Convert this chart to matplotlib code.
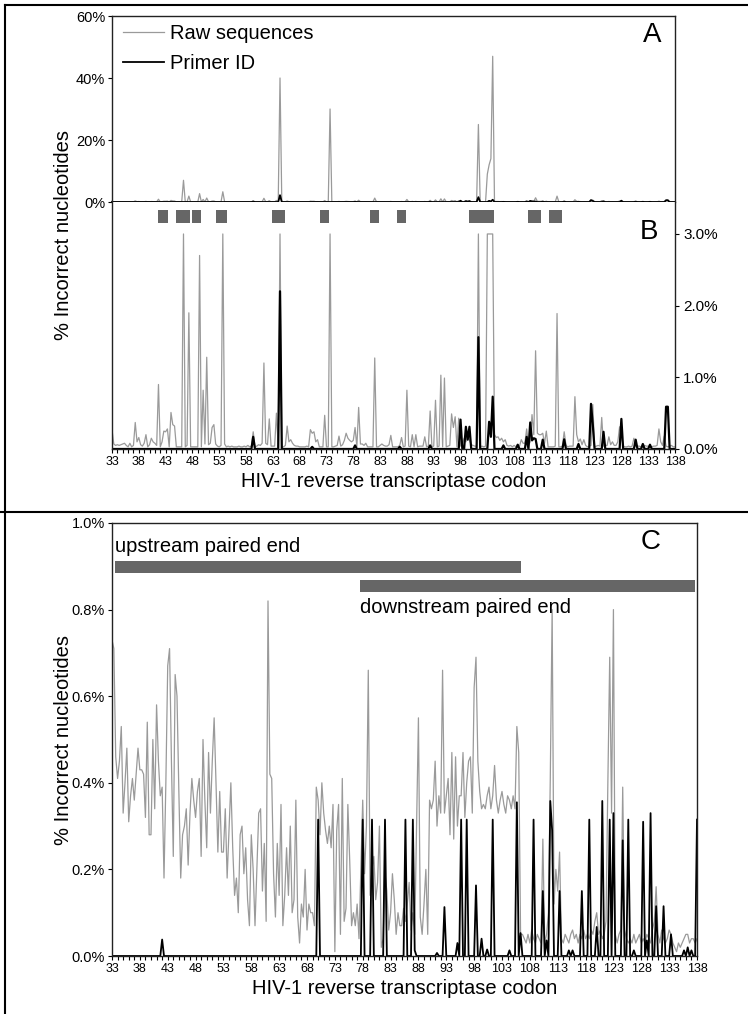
import numpy as np
import matplotlib
matplotlib.use("Agg")
import matplotlib.pyplot as plt
from matplotlib.lines import Line2D
from matplotlib.ticker import MultipleLocator, FixedLocator, FuncFormatter

plt.rcParams['font.family'] = ['Liberation Sans', 'DejaVu Sans']

# ---------------- data (percent incorrect nucleotides, one value per nucleotide) -------------
first_codon = 33
last_codon = 138
codon_ticks = [33, 38, 43, 48, 53, 58, 63, 68, 73, 78, 83, 88, 93, 98, 103, 108, 113, 118, 123, 128, 133, 138]

# Panels A/B: raw sequences (grey), rows of 5 codons x 3 nucleotides, starting at codon 33
raw_ab = [
    0.27, 0.07, 0.05, 0.06, 0.05, 0.06, 0.07, 0.08, 0.05, 0.03, 0.08, 0.03, 0.05, 0.37, 0.10,
    0.16, 0.06, 0.04, 0.08, 0.20, 0.03, 0.06, 0.15, 0.10, 0.08, 0.05, 0.90, 0.03, 0.10, 0.25,
    0.24, 0.28, 0.03, 0.51, 0.34, 0.32, 0.03, 0.03, 0.03, 0.03, 7.00, 0.03, 0.05, 1.90, 0.03,
    0.03, 0.03, 0.03, 0.03, 2.70, 0.03, 0.82, 0.07, 1.28, 0.06, 0.08, 0.30, 0.34, 0.07, 0.04,
    0.03, 0.05, 3.30, 0.07, 0.03, 0.04, 0.03, 0.04, 0.03, 0.03, 0.03, 0.04, 0.03, 0.03, 0.04,
    0.03, 0.05, 0.03, 0.04, 0.24, 0.03, 0.04, 0.06, 0.05, 0.08, 1.20, 0.08, 0.06, 0.42, 0.04,
    0.04, 0.04, 0.50, 0.03, 40.0, 0.03, 0.03, 0.05, 0.32, 0.10, 0.13, 0.08, 0.05, 0.04, 0.04,
    0.03, 0.03, 0.03, 0.03, 0.04, 0.03, 0.27, 0.22, 0.24, 0.10, 0.13, 0.03, 0.03, 0.03, 0.47,
    0.03, 0.03, 30.0, 0.03, 0.03, 0.04, 0.05, 0.18, 0.04, 0.06, 0.12, 0.22, 0.15, 0.12, 0.10,
    0.12, 0.30, 0.03, 0.58, 0.07, 0.07, 0.05, 0.08, 0.03, 0.03, 0.03, 0.03, 1.27, 0.03, 0.03,
    0.05, 0.07, 0.05, 0.04, 0.04, 0.06, 0.19, 0.03, 0.03, 0.03, 0.03, 0.05, 0.16, 0.03, 0.04,
    0.82, 0.04, 0.03, 0.20, 0.03, 0.20, 0.03, 0.04, 0.04, 0.04, 0.17, 0.03, 0.04, 0.53, 0.03,
    0.04, 0.68, 0.03, 0.04, 1.03, 0.03, 0.99, 0.03, 0.04, 0.05, 0.49, 0.30, 0.45, 0.03, 0.43,
    0.04, 0.06, 0.15, 0.10, 0.20, 0.12, 0.06, 0.05, 0.04, 0.04, 25.0, 0.03, 0.04, 0.03, 0.04,
    9.00, 12.0, 14.0, 47.0, 0.20, 0.16, 0.17, 0.12, 0.15, 0.10, 0.13, 0.05, 0.04, 0.05, 0.03,
    0.05, 0.03, 0.06, 0.04, 0.13, 0.08, 0.08, 0.28, 0.05, 0.10, 0.48, 0.20, 1.37, 0.22, 0.20,
    0.20, 0.22, 0.08, 0.25, 0.03, 0.03, 0.03, 0.03, 0.04, 1.89, 0.03, 0.03, 0.04, 0.24, 0.05,
    0.03, 0.04, 0.04, 0.04, 0.73, 0.20, 0.10, 0.14, 0.06, 0.13, 0.05, 0.03, 0.04, 0.05, 0.62,
    0.03, 0.04, 0.05, 0.04, 0.44, 0.04, 0.05, 0.05, 0.17, 0.06, 0.10, 0.05, 0.05, 0.10, 0.31,
    0.20, 0.04, 0.03, 0.03, 0.04, 0.03, 0.04, 0.15, 0.04, 0.04, 0.04, 0.03, 0.04, 0.05, 0.04,
    0.04, 0.04, 0.03, 0.04, 0.04, 0.05, 0.28, 0.10, 0.05, 0.18, 0.04, 0.03, 0.04, 0.05, 0.03,
    0.03,
]

# Panels A/B: Primer ID consensus (black)
pid_ab = [
    0, 0, 0, 0, 0, 0, 0, 0, 0, 0, 0, 0, 0, 0, 0,
    0, 0, 0, 0, 0, 0, 0, 0, 0, 0, 0, 0, 0, 0, 0,
    0, 0, 0, 0, 0, 0, 0, 0, 0, 0, 0, 0, 0, 0, 0,
    0, 0, 0, 0, 0, 0, 0, 0, 0, 0, 0, 0, 0, 0, 0,
    0, 0, 0, 0, 0, 0, 0, 0, 0, 0, 0, 0, 0, 0, 0,
    0, 0, 0, 0, 0.17, 0, 0, 0, 0, 0, 0, 0, 0, 0, 0,
    0, 0, 0, 0, 2.20, 0, 0, 0, 0, 0, 0, 0, 0, 0, 0,
    0, 0, 0, 0, 0, 0, 0, 0.03, 0, 0, 0, 0, 0, 0, 0,
    0, 0, 0, 0, 0, 0, 0, 0, 0, 0, 0, 0, 0, 0, 0,
    0, 0.05, 0, 0, 0, 0, 0, 0, 0, 0, 0, 0, 0, 0, 0,
    0, 0, 0, 0, 0, 0, 0, 0, 0, 0, 0, 0.03, 0, 0, 0,
    0, 0, 0, 0, 0, 0, 0, 0, 0, 0, 0, 0, 0, 0.05, 0,
    0, 0, 0, 0, 0, 0, 0, 0, 0, 0, 0, 0, 0, 0, 0,
    0.41, 0, 0, 0.31, 0.13, 0.31, 0, 0, 0, 0, 1.56, 0, 0, 0, 0,
    0, 0.38, 0.17, 0.73, 0, 0, 0, 0, 0, 0.05, 0, 0, 0, 0, 0,
    0, 0, 0.06, 0, 0, 0, 0, 0.17, 0, 0.37, 0.12, 0.15, 0.14, 0, 0,
    0, 0.13, 0, 0, 0, 0, 0, 0, 0, 0, 0, 0, 0, 0.135, 0,
    0, 0, 0, 0, 0, 0, 0.07, 0, 0, 0, 0, 0, 0, 0.63, 0.34,
    0, 0, 0, 0, 0, 0.24, 0, 0, 0, 0, 0, 0, 0, 0, 0,
    0.42, 0, 0, 0, 0, 0, 0, 0, 0.13, 0, 0, 0, 0.07, 0, 0,
    0, 0.06, 0, 0, 0, 0, 0, 0, 0, 0, 0.59, 0.59, 0, 0, 0,
    0,
]

# Panel C: raw sequences (grey)
raw_c = [
    0.73, 0.71, 0.46, 0.41, 0.45, 0.53, 0.33, 0.40, 0.48, 0.31, 0.37, 0.41, 0.36, 0.42, 0.48,
    0.43, 0.43, 0.42, 0.32, 0.54, 0.28, 0.28, 0.50, 0.34, 0.58, 0.45, 0.37, 0.39, 0.18, 0.40,
    0.67, 0.71, 0.45, 0.23, 0.65, 0.60, 0.38, 0.18, 0.28, 0.30, 0.34, 0.21, 0.33, 0.41, 0.36,
    0.32, 0.38, 0.41, 0.23, 0.50, 0.36, 0.25, 0.47, 0.33, 0.45, 0.55, 0.40, 0.24, 0.38, 0.24,
    0.24, 0.34, 0.18, 0.29, 0.40, 0.25, 0.14, 0.18, 0.10, 0.28, 0.30, 0.19, 0.25, 0.13, 0.07,
    0.28, 0.20, 0.07, 0.20, 0.33, 0.34, 0.15, 0.26, 0.08, 0.82, 0.42, 0.41, 0.19, 0.09, 0.26,
    0.14, 0.35, 0.07, 0.14, 0.25, 0.14, 0.30, 0.10, 0.13, 0.36, 0.09, 0.03, 0.12, 0.09, 0.20,
    0.06, 0.12, 0.10, 0.10, 0.07, 0.39, 0.36, 0.28, 0.40, 0.33, 0.29, 0.26, 0.30, 0.25, 0.35,
    0.01, 0.29, 0.35, 0.05, 0.41, 0.08, 0.11, 0.35, 0.22, 0.07, 0.10, 0.07, 0.12, 0.04, 0.20,
    0.36, 0.19, 0.30, 0.66, 0.14, 0.20, 0.23, 0.13, 0.17, 0.30, 0.02, 0.04, 0.19, 0.15, 0.06,
    0.10, 0.19, 0.13, 0.05, 0.10, 0.07, 0.07, 0.11, 0.08, 0.12, 0.17, 0.06, 0.10, 0.05, 0.30,
    0.55, 0.09, 0.05, 0.12, 0.20, 0.05, 0.36, 0.34, 0.36, 0.45, 0.30, 0.37, 0.33, 0.66, 0.33,
    0.37, 0.41, 0.28, 0.47, 0.27, 0.46, 0.30, 0.37, 0.37, 0.47, 0.32, 0.40, 0.45, 0.46, 0.33,
    0.62, 0.69, 0.45, 0.38, 0.34, 0.35, 0.34, 0.37, 0.39, 0.34, 0.37, 0.44, 0.36, 0.33, 0.36,
    0.38, 0.35, 0.33, 0.37, 0.36, 0.34, 0.37, 0.34, 0.53, 0.47, 0.05, 0.05, 0.04, 0.03, 0.05,
    0.03, 0.06, 0.04, 0.03, 0.05, 0.04, 0.03, 0.27, 0.03, 0.05, 0.10, 0.41, 0.80, 0.12, 0.20,
    0.15, 0.24, 0.04, 0.03, 0.05, 0.04, 0.03, 0.05, 0.06, 0.04, 0.05, 0.03, 0.05, 0.04, 0.06,
    0.04, 0.05, 0.04, 0.06, 0.05, 0.08, 0.10, 0.05, 0.06, 0.04, 0.05, 0.08, 0.40, 0.69, 0.33,
    0.80, 0.05, 0.03, 0.05, 0.06, 0.39, 0.06, 0.04, 0.03, 0.04, 0.03, 0.05, 0.03, 0.04, 0.05,
    0.03, 0.04, 0.03, 0.05, 0.04, 0.03, 0.06, 0.08, 0.16, 0.05, 0.03, 0.06, 0.04, 0.03, 0.04,
    0.06, 0.05, 0.03, 0.02, 0.01, 0.03, 0.02, 0.03, 0.04, 0.05, 0.05, 0.03, 0.04, 0.04, 0.03,
    0.04,
]

# Panel C: Primer ID consensus (black)
pid_c = [
    0, 0, 0, 0, 0, 0, 0, 0, 0, 0, 0, 0, 0, 0, 0,
    0, 0, 0, 0, 0, 0, 0, 0, 0, 0, 0, 0, 0.038, 0, 0,
    0, 0, 0, 0, 0, 0, 0, 0, 0, 0, 0, 0, 0, 0, 0,
    0, 0, 0, 0, 0, 0, 0, 0, 0, 0, 0, 0, 0, 0, 0,
    0, 0, 0, 0, 0, 0, 0, 0, 0, 0, 0, 0, 0, 0, 0,
    0, 0, 0, 0, 0, 0, 0, 0, 0, 0, 0, 0, 0, 0, 0,
    0, 0, 0, 0, 0, 0, 0, 0, 0, 0, 0, 0, 0, 0, 0,
    0, 0, 0, 0, 0, 0, 0.315, 0, 0, 0, 0, 0, 0, 0, 0,
    0, 0, 0, 0, 0, 0, 0, 0, 0, 0, 0, 0, 0, 0, 0,
    0.315, 0, 0, 0, 0, 0.315, 0, 0, 0, 0, 0, 0, 0.315, 0, 0,
    0, 0, 0, 0, 0, 0, 0, 0, 0.315, 0, 0, 0, 0.315, 0.013, 0,
    0, 0, 0, 0, 0, 0, 0, 0, 0, 0, 0.007, 0, 0, 0, 0.113,
    0, 0, 0, 0, 0, 0, 0.03, 0, 0.315, 0, 0, 0.315, 0, 0, 0,
    0, 0.163, 0, 0, 0.04, 0, 0, 0.015, 0, 0, 0.315, 0, 0, 0, 0,
    0, 0, 0, 0, 0.013, 0, 0, 0, 0.355, 0, 0.053, 0, 0, 0, 0,
    0, 0, 0.315, 0, 0, 0, 0, 0.15, 0, 0.036, 0, 0.358, 0.29, 0, 0,
    0, 0.15, 0, 0, 0, 0, 0.013, 0, 0.013, 0, 0, 0, 0, 0.15, 0,
    0, 0, 0.315, 0, 0, 0, 0.067, 0, 0, 0.358, 0, 0, 0, 0.315, 0,
    0.33, 0, 0, 0, 0, 0.267, 0, 0, 0.315, 0, 0, 0.013, 0, 0, 0,
    0, 0.31, 0, 0.036, 0, 0.33, 0, 0, 0.115, 0, 0, 0, 0.115, 0, 0,
    0, 0.05, 0, 0, 0, 0, 0, 0, 0.013, 0, 0.02, 0, 0.013, 0, 0,
    0.315,
]

# Drug-resistance codon blocks shown in panel B (start codon, end codon)
block_start = [41.6, 44.9, 47.9, 52.4, 62.9, 71.8, 81.1, 86.2, 99.6, 110.6, 114.5]
block_end = [43.4, 47.6, 49.6, 54.5, 65.3, 73.5, 82.8, 87.9, 104.3, 113.0, 117.0]

# Paired-end read coverage in panel C (start codon, end codon, level)
paired_labels = ["upstream paired end", "downstream paired end"]
paired_start = [33.5, 77.5]
paired_end = [106.4, 137.7]
paired_level = [0.898, 0.854]

# ---------------- figure -------------
W, H = 748, 1014
fig = plt.figure(figsize=(W / 100, H / 100), dpi=100)


def box(x0, y0, x1, y1):
    return [x0 / W, 1 - y1 / H, (x1 - x0) / W, (y1 - y0) / H]


nt_pos = first_codon + np.arange(len(raw_ab)) / 3.0
GREY = '#9a9a9a'
BLOCK = '#666666'
SPINE = '#222222'
tick_fs = 9

axA = fig.add_axes(box(112, 16, 675, 202))
axB = fig.add_axes(box(112, 202, 675, 449))
axC = fig.add_axes(box(112, 523, 697, 956))

# ---- panel A ----
lA1, = axA.plot(nt_pos, raw_ab, color=GREY, lw=0.9, label='Raw sequences', clip_on=False)
lA2, = axA.plot(nt_pos, pid_ab, color='black', lw=1.3, label='Primer ID', clip_on=False)
axA.set_xlim(first_codon, last_codon)
axA.set_ylim(0, 60)
axA.set_yticks([0, 20, 40, 60])
axA.yaxis.set_major_formatter(FuncFormatter(lambda v, p: f'{v:.0f}%'))
axA.set_xticks([])
axA.spines['bottom'].set_visible(False)
for s in ['left', 'top', 'right']:
    axA.spines[s].set_color(SPINE)
    axA.spines[s].set_linewidth(1.0)
axA.tick_params(axis='y', direction='out', length=3, labelsize=10.5, pad=2)
axA.legend(handles=[lA1, lA2], loc='upper left', bbox_to_anchor=(0.02, 0.955), frameon=False,
           fontsize=14.5, handlelength=2.0, handletextpad=0.3, labelspacing=0.55,
           borderpad=0, borderaxespad=0)
axA.text(0.959, 0.90, 'A', transform=axA.transAxes, fontsize=20, ha='center', va='center')

# ---- panel B ----
cap = 3.0
axB.plot(nt_pos, np.minimum(raw_ab, cap), color=GREY, lw=0.9)
axB.plot(nt_pos, np.minimum(pid_ab, cap), color='black', lw=1.6)
axB.set_xlim(first_codon, last_codon)
axB.set_ylim(0, 3.446)
axB.yaxis.tick_right()
axB.set_yticks([0, 1, 2, 3])
axB.yaxis.set_major_formatter(FuncFormatter(lambda v, p: f'{v:.1f}%'))
axB.tick_params(axis='y', direction='out', length=3, labelsize=11, pad=3)
axB.spines['top'].set_visible(False)
for s in ['left', 'bottom', 'right']:
    axB.spines[s].set_color(SPINE)
    axB.spines[s].set_linewidth(1.0)
for s0, s1 in zip(block_start, block_end):
    axB.axvspan(s0, s1, ymin=0.915, ymax=0.968, color=BLOCK, lw=0)
axB.text(0.954, 0.879, 'B', transform=axB.transAxes, fontsize=20, ha='center', va='center')

# ---- panel C ----
axC.plot(nt_pos, raw_c, color=GREY, lw=0.9)
axC.plot(nt_pos, pid_c, color='black', lw=1.3)
axC.set_xlim(first_codon, last_codon)
axC.set_ylim(0, 1.0)
axC.set_yticks([0, 0.2, 0.4, 0.6, 0.8, 1.0])
axC.yaxis.set_major_formatter(FuncFormatter(lambda v, p: f'{v:.1f}%'))
axC.tick_params(axis='y', direction='out', length=3, labelsize=10.5, pad=2)
for s in axC.spines.values():
    s.set_color(SPINE)
    s.set_linewidth(1.0)
for lab, s0, s1, lev in zip(paired_labels, paired_start, paired_end, paired_level):
    axC.barh(lev, s1 - s0, left=s0, height=0.0277, color=BLOCK, lw=0)
axC.text(paired_start[0], 0.945, paired_labels[0], fontsize=14.5, ha='left', va='center')
axC.text(paired_start[1], 0.806, paired_labels[1], fontsize=14.5, ha='left', va='center')
axC.text(0.92, 0.956, 'C', transform=axC.transAxes, fontsize=20, ha='center', va='center')

# shared x-axis styling for B and C
for ax in (axB, axC):
    ax.xaxis.set_major_locator(FixedLocator(codon_ticks))
    ax.xaxis.set_minor_locator(MultipleLocator(1))
    ax.tick_params(axis='x', which='both', direction='out', length=3, width=0.8,
                   labelsize=tick_fs, pad=2)
    ax.set_xlabel('HIV-1 reverse transcriptase codon', fontsize=14.5, labelpad=3)

fig.text(64 / W, 1 - 235 / H, '% Incorrect nucleotides', rotation=90, fontsize=14.5,
         ha='center', va='center')
fig.text(64 / W, 1 - 740 / H, '% Incorrect nucleotides', rotation=90, fontsize=14.5,
         ha='center', va='center')

# table-cell borders around the two panels
fig.add_artist(Line2D([5 / W, 1], [1 - 5 / H, 1 - 5 / H], transform=fig.transFigure, color='black', lw=1.5))
fig.add_artist(Line2D([5 / W, 5 / W], [1 - 5 / H, 0], transform=fig.transFigure, color='black', lw=1.5))
fig.add_artist(Line2D([0, 747 / W], [1 - 512 / H, 1 - 512 / H], transform=fig.transFigure, color='black', lw=1.5))

fig.savefig('out.png', dpi=100)
